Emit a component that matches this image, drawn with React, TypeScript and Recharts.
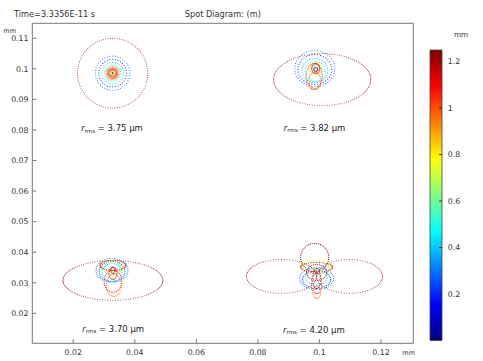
import React from 'react';
import { ScatterChart, Scatter, XAxis, YAxis, BarChart, Bar } from 'recharts';

const xTicks = [0.02, 0.04, 0.06, 0.08, 0.1, 0.12];
const yTicks = [0.02, 0.03, 0.04, 0.05, 0.06, 0.07, 0.08, 0.09, 0.1, 0.11];
const xDomain = [0.0067, 0.1305];
const yDomain = [0.0102, 0.1149];
const barTicks = [0.2, 0.4, 0.6, 0.8, 1, 1.2];
const barMax = 1.25;

// spot centres (mm) and r_rms labels
const spotX = [0.0328, 0.0988, 0.0329, 0.0991];
const spotY = [0.0986, 0.1001, 0.0334, 0.0334];
const rmsValues = ['3.75', '3.82', '3.70', '4.20'];
const labelX = [0.0326, 0.0984, 0.033, 0.0982];
const labelY = [0.0806, 0.0807, 0.015, 0.0147];

// pupil rings per spot: [dx, dy, rx, ry, pupil radius (mm), rays]  (offsets/radii in µm)
const ringsTopLeft = [
  [0, 0, 11.4, 11.4, 1.25, 96],
  [0, 0, 5.6, 5.6, 0.32, 40],
  [0, 0, 4.5, 4.5, 0.2, 32],
  [0, 0, 3.5, 3.5, 0.42, 28],
  [0, 0, 2.6, 2.6, 0.52, 30],
  [0, 0, 2.1, 2.1, 0.92, 28],
  [0, 0, 1.7, 1.7, 1.02, 24],
  [0, 0, 1.3, 1.3, 1.18, 22],
  [0, 0, 0.9, 0.9, 1.0, 16],
  [0, 0, 0.5, 0.5, 0.72, 12],
  [0, 0, 0.1, 0.1, 1.22, 4],
];
const ringsTopRight = [
  [2.1, -3.6, 15.8, 8.5, 1.25, 120],
  [-0.3, 0, 6.5, 5.9, 0.3, 44],
  [-0.3, -0.3, 5.5, 4.9, 0.2, 36],
  [-0.3, -0.65, 4.2, 3.9, 0.38, 32],
  [-0.15, -1.0, 3.25, 3.3, 0.46, 28],
  [0, -1.6, 2.3, 2.6, 0.6, 26],
  [0, 0, 1.95, 1.95, 0.8, 24],
  [-0.5, -2.6, 2.6, 4.25, 1.05, 36],
  [-0.3, -3.9, 1.95, 2.6, 0.95, 26],
  [0, 0, 1.3, 1.6, 1.2, 22],
  [0, -0.3, 0.65, 0.65, 1.25, 12],
];
const ringsBottomLeft = [
  [0, -2.6, 16.25, 6.5, 1.25, 120],
  [-0.3, 0.65, 5.2, 3.9, 0.3, 40],
  [-0.3, 0.3, 4.2, 3.3, 0.2, 34],
  [-0.3, 0, 3.25, 2.9, 0.42, 28],
  [-0.3, 1.3, 2.9, 2.0, 0.6, 26],
  [-0.3, 2.0, 3.6, 1.65, 0.8, 30],
  [0.3, -4.25, 2.45, 3.6, 0.95, 30],
  [0, -2.9, 2.9, 3.6, 1.08, 32],
  [0, 2.3, 4.2, 1.65, 1.2, 36],
  [0, -0.3, 1.3, 2.0, 1.2, 20],
  [0, 0.65, 0.65, 1.0, 1.25, 12],
];
const ringsBottomRight = [
  [-0.65, 4.9, 4.55, 4.6, 1.25, 44],
  [-11.4, -1.3, 11.4, 5.55, 1.25, 80],
  [10.7, -1.3, 10.7, 5.55, 1.25, 76],
  [0, -2.0, 5.5, 3.6, 0.3, 40],
  [0, -2.3, 4.55, 2.9, 0.2, 32],
  [0, -1.3, 3.6, 2.9, 0.42, 28],
  [0, 1.3, 4.2, 2.0, 0.6, 30],
  [0, 2.3, 4.9, 1.65, 0.8, 34],
  [0, -6.5, 1.3, 2.0, 0.95, 20],
  [0, -3.6, 1.65, 3.3, 1.1, 24],
  [0, 1.65, 5.2, 1.65, 1.15, 36],
  [0, 0, 3.25, 2.6, 1.2, 30],
  [0, -2.0, 1.3, 3.3, 1.25, 24],
];
const spotRings = [ringsTopLeft, ringsTopRight, ringsBottomLeft, ringsBottomRight];

const font = 'DejaVu Sans';
const axisColor = '#777';
const textColor = '#333';

function jet(v: number) {
  const t = Math.max(0, Math.min(1, v / barMax));
  const ch = (o: number) => Math.round(255 * Math.max(0, Math.min(1, 1.5 - Math.abs(4 * t - o))));
  return `rgb(${ch(3)},${ch(2)},${ch(1)})`;
}

// ray hits around each pupil ring
function spotPoints(i: number) {
  const pts: { x: number; y: number; color: string; big: boolean }[] = [];
  spotRings[i].forEach(([dx, dy, rx, ry, v, n]) => {
    for (let k = 0; k < n; k++) {
      const a = (2 * Math.PI * k) / n;
      pts.push({
        x: spotX[i] + (dx + rx * Math.cos(a)) / 1000,
        y: spotY[i] + (dy + ry * Math.sin(a)) / 1000,
        color: jet(v),
        big: rx > 8,
      });
    }
  });
  return pts;
}

const labelData = rmsValues.map((v, i) => ({ x: labelX[i], y: labelY[i], v }));
const barData = [{ name: 'c', v: barMax }];
const fmt = (v: number) => String(Number(v.toFixed(2)));

const Dot = (props: any) => (
  <circle
    cx={props.cx}
    cy={props.cy}
    r={props.payload.big ? 0.55 : 0.6}
    fill={props.payload.color}
    fillOpacity={props.payload.big ? 0.7 : 0.85}
  />
);

const RmsLabel = (props: any) => (
  <text x={props.cx} y={props.cy + 3} textAnchor="middle" fontSize={8.5} fill="#222" fontFamily={font}>
    <tspan fontStyle="italic">r</tspan>
    <tspan fontSize={5.5} dy={1.5}>rms</tspan>
    <tspan dy={-1.5}> = {props.payload.v} µm</tspan>
  </text>
);

const tickStyle = { fontSize: 7.8, fill: textColor, fontFamily: font };

export default function App() {
  return (
    <div style={{ position: 'fixed', left: 0, top: 0, width: 483, height: 361, background: '#fff' }}>
      <ScatterChart width={483} height={361} margin={{ top: 22.3, right: 68.7, bottom: 0, left: 0 }}>
        <XAxis
          dataKey="x"
          type="number"
          domain={xDomain}
          ticks={xTicks}
          allowDataOverflow
          height={17.7}
          tickSize={-4}
          tickMargin={10.3}
          tickFormatter={fmt}
          stroke={axisColor}
          tick={tickStyle}
        />
        <XAxis
          xAxisId="top"
          orientation="top"
          type="number"
          domain={xDomain}
          ticks={xTicks}
          allowDataOverflow
          height={1}
          tickSize={-4}
          tick={false}
          stroke={axisColor}
        />
        <YAxis
          dataKey="y"
          type="number"
          domain={yDomain}
          ticks={yTicks}
          allowDataOverflow
          width={32.3}
          tickSize={-4}
          tickMargin={7.8}
          tickFormatter={fmt}
          stroke={axisColor}
          tick={tickStyle}
        />
        <YAxis
          yAxisId="right"
          orientation="right"
          type="number"
          domain={yDomain}
          ticks={yTicks}
          allowDataOverflow
          width={1}
          tickSize={-4}
          tick={false}
          stroke={axisColor}
        />
        {spotRings.map((_, i) => (
          <Scatter key={i} data={spotPoints(i)} shape={Dot} isAnimationActive={false} />
        ))}
        <Scatter data={labelData} shape={RmsLabel} isAnimationActive={false} />
      </ScatterChart>

      <div style={{ position: 'absolute', left: 420, top: 0 }}>
        <BarChart width={63} height={361} data={barData} margin={{ top: 50, right: 11.3, bottom: 20.5, left: 0 }} barCategoryGap={0} barGap={0}>
          <defs>
            <linearGradient id="jetGrad" x1="0" y1="1" x2="0" y2="0">
              {[0, 0.125, 0.25, 0.375, 0.5, 0.625, 0.75, 0.875, 1].map(o => (
                <stop key={o} offset={o} stopColor={jet(o * barMax)} />
              ))}
            </linearGradient>
          </defs>
          <XAxis dataKey="name" hide />
          <YAxis
            yAxisId="l"
            orientation="left"
            type="number"
            domain={[0, barMax]}
            ticks={barTicks}
            width={10}
            axisLine={false}
            tickSize={-2.5}
            tick={false}
            stroke="#222"
          />
          <YAxis
            yAxisId="r"
            orientation="right"
            type="number"
            domain={[0, barMax]}
            ticks={barTicks}
            width={30}
            axisLine={false}
            tickSize={-2.5}
            tickMargin={8.5}
            tickFormatter={fmt}
            stroke="#222"
            tick={tickStyle}
          />
          <Bar yAxisId="r" dataKey="v" fill="url(#jetGrad)" stroke="#444" strokeWidth={0.8} isAnimationActive={false} />
        </BarChart>
      </div>

      <svg width={483} height={361} style={{ position: 'absolute', left: 0, top: 0, pointerEvents: 'none' }} fontFamily={font}>
        <text x={14} y={17.3} fontSize={8.2} fill={textColor}>Time=3.3356E-11 s</text>
        <text x={222.8} y={17.3} fontSize={8.2} fill={textColor} textAnchor="middle">Spot Diagram: (m)</text>
        <text x={3.3} y={33} fontSize={6.5} fill={textColor}>mm</text>
        <text x={402.3} y={355} fontSize={6.5} fill={textColor}>mm</text>
        <text x={454} y={36.7} fontSize={7.3} fill={textColor}>mm</text>
      </svg>
    </div>
  );
}
